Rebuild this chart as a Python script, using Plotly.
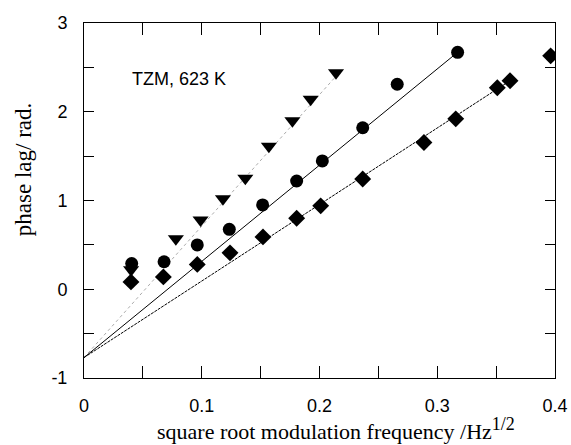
import plotly.graph_objects as go

# Data
tri_x = [0.040, 0.078, 0.099, 0.118, 0.137, 0.157, 0.177, 0.1925, 0.214]
tri_y = [0.22, 0.57, 0.78, 1.02, 1.25, 1.61, 1.90, 2.14, 2.44]

circ_x = [0.0405, 0.068, 0.0962, 0.1234, 0.1517, 0.1806, 0.2024, 0.2367, 0.266, 0.3173]
circ_y = [0.29, 0.31, 0.50, 0.675, 0.95, 1.22, 1.446, 1.82, 2.31, 2.67]

dia_x = [0.0399, 0.0674, 0.0962, 0.124, 0.152, 0.1806, 0.201, 0.2367, 0.2887, 0.3157, 0.351, 0.3618, 0.3963]
dia_y = [0.083, 0.139, 0.28, 0.41, 0.59, 0.80, 0.94, 1.243, 1.653, 1.92, 2.27, 2.35, 2.63]

# fitted lines (start / end points)
tri_fit_x = [0.0, 0.214]
tri_fit_y = [-0.77, 2.40]
circ_fit_x = [0.0, 0.3173]
circ_fit_y = [-0.77, 2.67]
dia_fit_x = [0.0, 0.3618]
dia_fit_y = [-0.77, 2.35]

x_tickvals = [0, 0.1, 0.2, 0.3, 0.4]
x_ticktext = ["0", "0.1", "0.2", "0.3", "0.4"]
x_minorvals = [0.05, 0.15, 0.25, 0.35]
y_tickvals = [-1, 0, 1, 2, 3]
y_ticktext = ["-1", "0", "1", "2", "3"]
y_minorvals = [-0.5, 0.5, 1.5, 2.5]

x_title = "square root modulation frequency /Hz<sup><span style='font-size:18px'>1/2</span></sup>"
y_title = "phase lag/ rad."
label_text = "TZM, 623 K"

fig = go.Figure()

fig.add_trace(go.Scatter(x=tri_fit_x, y=tri_fit_y, mode="lines",
                         line=dict(color="#aaaaaa", width=1, dash="dot"), showlegend=False))
fig.add_trace(go.Scatter(x=circ_fit_x, y=circ_fit_y, mode="lines",
                         line=dict(color="black", width=1), showlegend=False))
fig.add_trace(go.Scatter(x=dia_fit_x, y=dia_fit_y, mode="lines",
                         line=dict(color="black", width=1, dash="3px,1px"), showlegend=False))

fig.add_trace(go.Scatter(x=circ_x, y=circ_y, mode="markers",
                         marker=dict(symbol="circle", size=13, color="black"), showlegend=False))
fig.add_trace(go.Scatter(x=tri_x, y=tri_y, mode="markers",
                         marker=dict(symbol="triangle-down", size=14, color="black"), showlegend=False))
fig.add_trace(go.Scatter(x=dia_x, y=dia_y, mode="markers",
                         marker=dict(symbol="diamond", size=13, color="black"), showlegend=False))

fig.add_annotation(x=0.039, y=2.37, xref="x", yref="y", text=label_text, showarrow=False,
                   xanchor="left", yanchor="middle",
                   font=dict(family="Liberation Sans, Arial", size=18, color="black"))

# axis titles as annotations for exact placement
fig.add_annotation(x=0.535, y=-0.143, xref="paper", yref="paper", text=x_title, showarrow=False,
                   xanchor="center", yanchor="middle",
                   font=dict(family="Liberation Serif, Times New Roman", size=22, color="black"))
fig.add_annotation(x=-0.127, y=0.586, xref="paper", yref="paper", text=y_title, showarrow=False,
                   xanchor="center", yanchor="middle", textangle=-90,
                   font=dict(family="Liberation Serif, Times New Roman", size=23, color="black"))

axis_common = dict(showgrid=False, zeroline=False, showline=True, linecolor="black", linewidth=1,
                   mirror="ticks", ticks="inside", tickcolor="black", tickwidth=1,
                   automargin=False,
                   tickfont=dict(family="Liberation Sans, Arial", size=18, color="black"))

fig.update_xaxes(range=[0, 0.4], tickmode="array", tickvals=x_tickvals, ticktext=x_ticktext,
                 ticklen=12, ticklabelstandoff=11,
                 minor=dict(tickmode="array", tickvals=x_minorvals, ticks="inside", ticklen=12,
                            tickcolor="black", tickwidth=1, showgrid=False),
                 **axis_common)
fig.update_yaxes(range=[-1, 3], tickmode="array", tickvals=y_tickvals, ticktext=y_ticktext,
                 ticklen=10, ticklabelstandoff=12,
                 minor=dict(tickmode="array", tickvals=y_minorvals, ticks="inside", ticklen=10,
                            tickcolor="black", tickwidth=1, showgrid=False),
                 **axis_common)

fig.update_layout(width=571, height=445, margin=dict(l=84, r=16, t=23, b=67),
                  plot_bgcolor="white", paper_bgcolor="white")

fig.write_html("out.html", config={"displayModeBar": False},
               post_script="document.body.style.margin='0px';")
